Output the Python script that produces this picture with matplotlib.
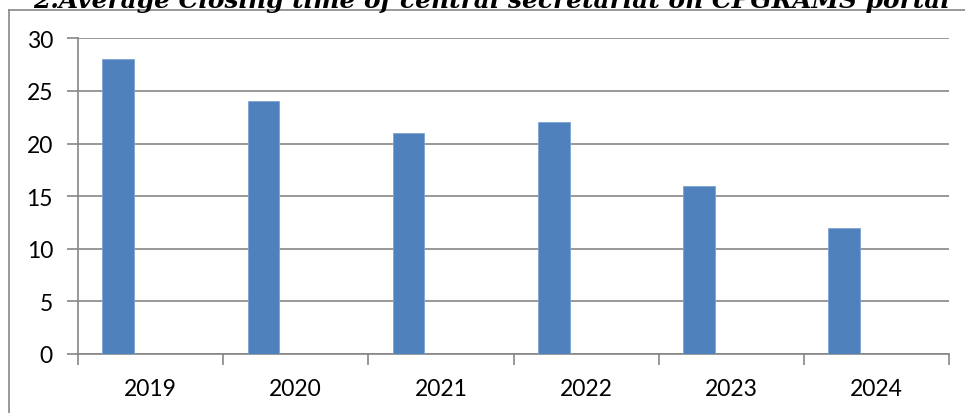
import matplotlib
matplotlib.use('Agg')
import matplotlib.pyplot as plt
from matplotlib.lines import Line2D
import numpy as np

# 数据
years = ['2019', '2020', '2021', '2022', '2023', '2024']
closing_days = [28, 24, 21, 22, 16, 12]
y_ticks = [0, 5, 10, 15, 20, 25, 30]

W, H = 965, 414
fig = plt.figure(figsize=(W / 100, H / 100), dpi=100)
plt.rcParams['font.family'] = ['Lato', 'DejaVu Sans']

ax = fig.add_axes([78 / W, 1 - 355 / H, (949 - 78) / W, (355 - 39.3) / H])

# 柱子靠左放置（类似三系列簇状柱形图中的第一列）
x = np.arange(len(years))
bar_w = 0.218
ax.bar(x - 0.223, closing_days, width=bar_w, color='#4F81BD',
       edgecolor='#7EA3D3', linewidth=0.6, zorder=3)

ax.set_xlim(-0.5, len(years) - 0.5)
ax.set_ylim(0, 30)
ax.set_yticks(y_ticks)
ax.set_yticklabels([str(v) for v in y_ticks], fontsize=16.5)

# 类别边界刻度 + 居中标签
ax.set_xticks(np.arange(len(years) + 1) - 0.5)
ax.set_xticklabels([])
ax.set_xticks(x, minor=True)
ax.set_xticklabels(years, minor=True, fontsize=16.5)
ax.tick_params(axis='x', which='minor', length=0, pad=17)
ax.tick_params(axis='x', which='major', length=8, color='#868686', width=1.2)
ax.tick_params(axis='y', length=8, color='#868686', width=1.2, pad=10)

ax.grid(axis='y', color='#868686', linewidth=1.2, zorder=0)
ax.set_axisbelow(True)
for side in ['top', 'right']:
    ax.spines[side].set_visible(False)
ax.spines['left'].set_color('#868686')
ax.spines['bottom'].set_color('#868686')
ax.spines['left'].set_linewidth(1.2)
ax.spines['bottom'].set_linewidth(1.2)

# 外框（左边和上边）
fig.add_artist(Line2D([8.5 / W, 8.5 / W], [0, 1 - 10.5 / H], color='#888888', lw=1.2))
fig.add_artist(Line2D([8.5 / W, 1], [1 - 10.5 / H, 1 - 10.5 / H], color='#888888', lw=1.2))

# 标题（顶部被裁切）
title = fig.text((33 + 950) / 2 / W, 1 - 8 / H,
                 '2.Average Closing time of central secretariat on CPGRAMS portal',
                 ha='center', va='baseline', fontsize=18, fontweight='bold',
                 fontstyle='italic', family=['DejaVu Serif'])
fig.canvas.draw()
bb = title.get_window_extent()
title.set_fontsize(18 * (950 - 33) / bb.width)

plt.savefig('out.png', dpi=100)
